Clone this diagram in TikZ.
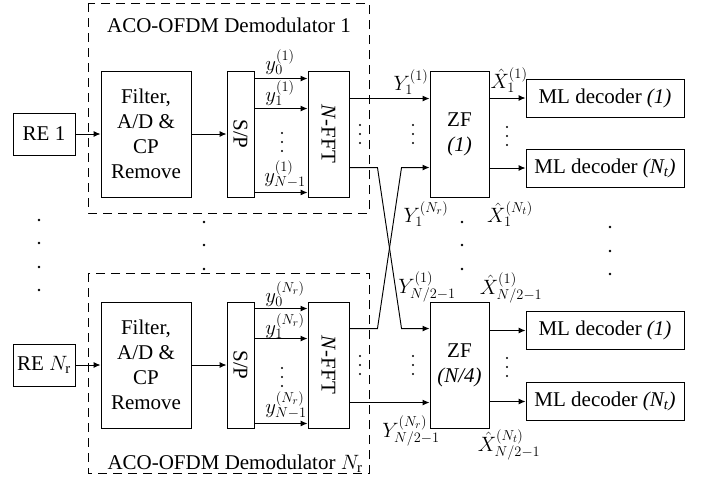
\documentclass[tikz,border=0pt]{standalone}
\usepackage{fontspec}
\setmainfont{Liberation Serif}
\usetikzlibrary{arrows.meta,calc}

\begin{document}
\begin{tikzpicture}[
  x=1pt,y=-1pt,
  line width=0.95pt,
  txt/.style={font=\fontsize{21}{25}\selectfont},
  box/.style={draw,txt,inner sep=0pt,align=center},
  re/.style={box,minimum width=62pt,minimum height=42pt},
  tall/.style={box,minimum height=126pt},
  ml/.style={box,minimum width=158pt,minimum height=38pt},
  arrow/.style={-{Latex[length=7pt,width=6pt]}},
  demod/.style={draw,line width=1pt,dash pattern=on 9pt off 6pt},
  lbl/.style={font=\fontsize{21}{22}\selectfont,inner sep=0pt}
]
\useasboundingbox (0,0) rectangle (713,488);

% demodulator frames
\draw[demod] (88,3) rectangle (369,213);
\draw[demod] (88,273) rectangle (369,473);
\node[txt] (title1) at (229,25) {ACO-OFDM Demodulator 1};
\node[txt] (title2) at (235,464) {ACO-OFDM Demodulator $N_{\mathrm{r}}$};

% branch 1
\node[re] (re1) at (44,134) {RE 1};
\node[tall,minimum width=90pt] (filt1) at (146,134) {Filter,\\A/D \&\\CP\\Remove};
\node[tall,minimum width=27pt] (sp1) at (240.5,134) {\rotatebox{-90}{S/P}};
\node[tall,minimum width=41pt] (fft1) at (328.5,134) {\rotatebox{-90}{\textit{N}-FFT}};
\node[tall,minimum width=59pt] (zf1) at (459.5,134) {ZF\\\textit{(1)}};
\node[ml] (ml1a) at (605,98) {ML decoder \textit{(1)}};
\node[ml] (ml1b) at (605,168) {ML decoder \textit{(N\textsubscript{t})}};

% branch N_r
\node[re] (re2) at (44,365) {RE $N_{\mathrm{r}}$};
\node[tall,minimum width=90pt] (filt2) at (146,365) {Filter,\\A/D \&\\CP\\Remove};
\node[tall,minimum width=27pt] (sp2) at (240.5,365) {\rotatebox{-90}{S/P}};
\node[tall,minimum width=41pt] (fft2) at (328.5,365) {\rotatebox{-90}{\textit{N}-FFT}};
\node[tall,minimum width=59pt] (zf2) at (459.5,365) {ZF\\\textit{(N/4)}};
\node[ml] (ml2a) at (605,330.5) {ML decoder \textit{(1)}};
\node[ml] (ml2b) at (605,401.5) {ML decoder \textit{(N\textsubscript{t})}};

% connectors, branch 1
\draw[arrow] (re1) -- (filt1);
\draw[arrow] (filt1) -- (sp1);
\draw[arrow] ([yshift=-8pt]sp1.north east) -- ([yshift=-8pt]fft1.north west);
\draw[arrow] ([yshift=-38pt]sp1.north east) -- ([yshift=-38pt]fft1.north west);
\draw[arrow] ([yshift=5pt]sp1.south east) -- ([yshift=5pt]fft1.south west);
\draw[arrow] ([yshift=-28pt]fft1.north east) -- ([yshift=-28pt]zf1.north west);
\draw[arrow] ([yshift=-97pt]fft1.north east) -- ++(28,0)
  -- ($([yshift=-27pt]zf2.north west)+(-28,0)$) -- ([yshift=-27pt]zf2.north west);
\draw[arrow] (zf1.east |- ml1a.west) -- (ml1a.west);
\draw[arrow] (zf1.east |- ml1b.west) -- (ml1b.west);

% connectors, branch N_r
\draw[arrow] (re2) -- (filt2);
\draw[arrow] (filt2) -- (sp2);
\draw[arrow] ([yshift=-7pt]sp2.north east) -- ([yshift=-7pt]fft2.north west);
\draw[arrow] ([yshift=-37pt]sp2.north east) -- ([yshift=-37pt]fft2.north west);
\draw[arrow] ([yshift=5pt]sp2.south east) -- ([yshift=5pt]fft2.south west);
\draw[arrow] ([yshift=-27pt]fft2.north east) -- ++(28,0)
  -- ($([yshift=-97pt]zf1.north west)+(-28,0)$) -- ([yshift=-97pt]zf1.north west);
\draw[arrow] ([yshift=-101pt]fft2.north east) -- ([yshift=-101pt]zf2.north west);
\draw[arrow] (zf2.east |- ml2a.west) -- (ml2a.west);
\draw[arrow] (zf2.east |- ml2b.west) -- (ml2b.west);

% signal labels
\node[lbl] (y01) at (280,62) {$y_0^{(1)}$};
\node[lbl] (y11) at (280,93) {$y_1^{(1)}$};
\node[lbl] (yn1) at (285,174) {$y_{N-1}^{(1)}$};
\node[lbl] (y0r) at (285,294) {$y_0^{(N_r)}$};
\node[lbl] (y1r) at (285,326) {$y_1^{(N_r)}$};
\node[lbl] (ynr) at (286,405) {$y_{N-1}^{(N_r)}$};
\node[lbl] (Y11) at (411,82) {$Y_1^{(1)}$};
\node[lbl] (Y1r) at (426,214) {$Y_1^{(N_r)}$};
\node[lbl] (Yh1) at (427,287) {$Y_{N/2-1}^{(1)}$};
\node[lbl] (Yhr) at (411,431) {$Y_{N/2-1}^{(N_r)}$};
\node[lbl] (X11) at (509,80) {$\hat{X}_1^{(1)}$};
\node[lbl] (X1t) at (510,214) {$\hat{X}_1^{(N_t)}$};
\node[lbl] (Xh1) at (511,288) {$\hat{X}_{N/2-1}^{(1)}$};
\node[lbl] (Xht) at (509,445) {$\hat{X}_{N/2-1}^{(N_t)}$};

% short ellipses between parallel lines
\foreach \x/\y in {282/142,360/134,413/134,507/136,282/377,360/365,413/365,507/367}
  \foreach \d in {-9,0,9} \fill (\x,\y+\d) circle (1.2pt);
% wide ellipses between branches
\foreach \y in {220,243,267,290} \fill (39,\y) circle (1.4pt);
\foreach \y in {222,245,269} \fill (204,\y) circle (1.4pt);
\foreach \y in {222,245,269} \fill (462,\y) circle (1.4pt);
\foreach \y in {227,251,274} \fill (610,\y) circle (1.4pt);
\end{tikzpicture}
\end{document}
